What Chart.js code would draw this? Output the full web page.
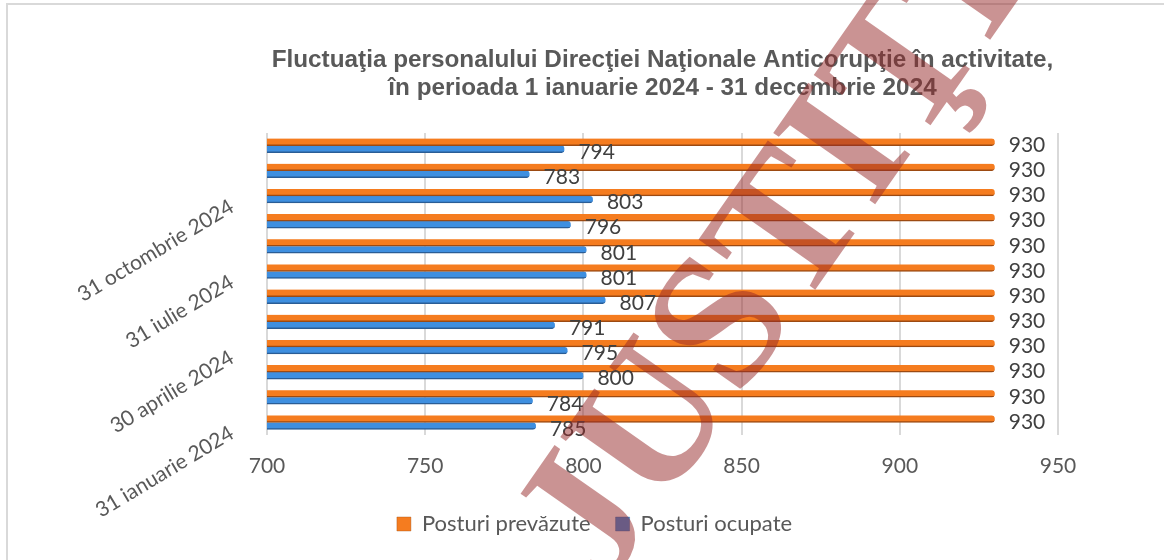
<!DOCTYPE html>
<html>
<head>
<meta charset="utf-8">
<script src="https://cdn.jsdelivr.net/npm/chart.js@4"></script>
<style>
html, body { margin: 0; padding: 0; background: #fff; }
#wrap { width: 1164px; height: 560px; position: relative; }
</style>
</head>
<body>
<div id="wrap"><canvas id="myChart"></canvas></div>
<script>
var luni = ['31 ianuarie 2024', '29 februarie 2024', '31 martie 2024', '30 aprilie 2024',
            '31 mai 2024', '30 iunie 2024', '31 iulie 2024', '31 august 2024',
            '30 septembrie 2024', '31 octombrie 2024', '30 noiembrie 2024', '31 decembrie 2024'];
var posturiPrevazute = [930, 930, 930, 930, 930, 930, 930, 930, 930, 930, 930, 930];
var posturiOcupate = [785, 784, 800, 795, 791, 807, 801, 801, 796, 803, 783, 794];
var xMin = 700, xMax = 950, xPas = 50;
var titlu = ['Fluctuaţia personalului Direcţiei Naţionale Anticorupţie în activitate,',
             'în perioada 1 ianuarie 2024 - 31 decembrie 2024'];
var watermark = 'JUSTIŢIE';

var gri = '#595959';
var fontText = 'Lato';

// titlu, chenar, etichete de valori si watermark
var extra = {
    id: 'extra',
    beforeDraw: function(chart) {
        var ctx = chart.ctx;
        ctx.save();
        ctx.strokeStyle = '#d9d9d9';
        ctx.lineWidth = 2;
        ctx.strokeRect(7, 4, 1300, 700);
        ctx.restore();
    },
    afterDatasetsDraw: function(chart) {
        var ctx = chart.ctx;
        ctx.save();
        ctx.font = '21px ' + fontText;
        ctx.fillStyle = '#404040';
        ctx.textBaseline = 'middle';
        ctx.textAlign = 'left';
        chart.data.datasets.forEach(function(ds, i) {
            var meta = chart.getDatasetMeta(i);
            meta.data.forEach(function(bar, j) {
                ctx.fillText(ds.data[j], bar.x + 14, bar.y + 3);
            });
        });
        ctx.restore();
    },
    afterDraw: function(chart) {
        var ctx = chart.ctx;
        var a = chart.chartArea;
        ctx.save();
        ctx.font = 'bold 24.3px "Liberation Sans"';
        ctx.fillStyle = gri;
        ctx.textAlign = 'center';
        ctx.textBaseline = 'middle';
        var cx = (a.left + a.right) / 2;
        ctx.fillText(titlu[0], cx, 60);
        ctx.fillText(titlu[1], cx, 88);
        ctx.restore();

        ctx.save();
        ctx.translate(605, 590);
        ctx.rotate(-55 * Math.PI / 180);
        ctx.font = 'bold 190px "Liberation Serif"';
        ctx.fillStyle = 'rgba(150, 40, 40, 0.5)';
        ctx.textBaseline = 'alphabetic';
        ctx.fillText(watermark, 0, 0);
        ctx.restore();
    }
};

var ctx = document.getElementById('myChart').getContext('2d');
var chart = new Chart(ctx, {
    type: 'bar',
    data: {
        labels: luni,
        datasets: [{
            label: 'Posturi prevăzute',
            data: posturiPrevazute,
            backgroundColor: '#f57c1f',
            borderColor: '#9c4a12',
            borderWidth: { top: 0, right: 0, bottom: 1.5, left: 0 },
            borderRadius: 3,
            barThickness: 7
        }, {
            label: 'Posturi ocupate',
            data: posturiOcupate,
            backgroundColor: '#3e8fe0',
            borderColor: '#2a5d96',
            borderWidth: { top: 0, right: 0, bottom: 1.5, left: 0 },
            borderRadius: 3,
            barThickness: 7
        }]
    },
    options: {
        indexAxis: 'y',
        responsive: true,
        maintainAspectRatio: false,
        animation: false,
        layout: { padding: { left: 25, right: 0, top: 133, bottom: 15 } },
        scales: {
            x: {
                min: xMin,
                max: xMax,
                grid: { color: '#d9d9d9', lineWidth: 2, drawTicks: false },
                border: { display: false },
                ticks: {
                    stepSize: xPas,
                    padding: 19,
                    color: gri,
                    font: { family: fontText, size: 21 }
                },
                afterFit: function(s) { s.height = 53; }
            },
            y: {
                reverse: true,
                grid: { display: false },
                border: { display: false },
                ticks: {
                    autoSkip: false,
                    minRotation: 31,
                    maxRotation: 31,
                    padding: 27,
                    labelOffset: 9,
                    color: gri,
                    font: { family: fontText, size: 21 },
                    callback: function(v, i) {
                        return i % 3 === 0 ? this.getLabelForValue(v) : '';
                    }
                },
                afterFit: function(s) { s.width = 242; }
            },
            // axa goala in dreapta, doar pentru spatiul etichetelor 930
            yDreapta: {
                type: 'category',
                position: 'right',
                labels: luni,
                grid: { display: false },
                border: { display: false },
                ticks: { display: false },
                afterFit: function(s) { s.width = 106; }
            }
        },
        plugins: {
            legend: {
                position: 'bottom',
                labels: {
                    boxWidth: 14,
                    boxHeight: 14,
                    padding: 25,
                    color: gri,
                    font: { family: fontText, size: 22 }
                }
            },
            tooltip: { enabled: false }
        }
    },
    plugins: [extra]
});
</script>
</body>
</html>
